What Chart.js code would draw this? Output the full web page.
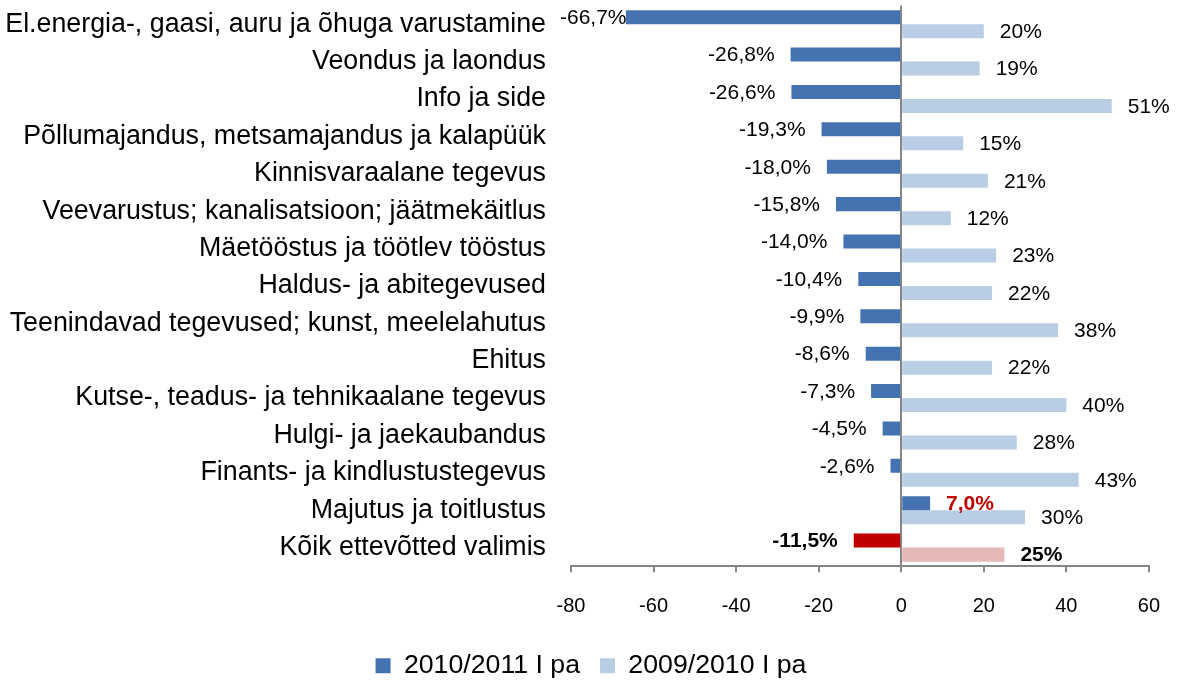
<!DOCTYPE html>
<html>
<head>
<meta charset="utf-8">
<script src="https://cdn.jsdelivr.net/npm/chart.js@4"></script>
<style>
  html, body { margin: 0; padding: 0; background: #fff; }
  #wrap { width: 1182px; height: 681px; }
</style>
</head>
<body>
<div id="wrap"><canvas id="sectorChart" width="1182" height="681"></canvas></div>
<script>
const categories = [
    'El.energia-, gaasi, auru ja õhuga varustamine',
    'Veondus ja laondus',
    'Info ja side',
    'Põllumajandus, metsamajandus ja kalapüük',
    'Kinnisvaraalane tegevus',
    'Veevarustus; kanalisatsioon; jäätmekäitlus',
    'Mäetööstus ja töötlev tööstus',
    'Haldus- ja abitegevused',
    'Teenindavad tegevused; kunst, meelelahutus',
    'Ehitus',
    'Kutse-, teadus- ja tehnikaalane tegevus',
    'Hulgi- ja jaekaubandus',
    'Finants- ja kindlustustegevus',
    'Majutus ja toitlustus',
    'Kõik ettevõtted valimis'
];
const change2011 = [-66.7, -26.8, -26.6, -19.3, -18.0, -15.8, -14.0, -10.4, -9.9, -8.6, -7.3, -4.5, -2.6, 7.0, -11.5];
const change2010 = [20, 19, 51, 15, 21, 12, 23, 22, 38, 22, 40, 28, 43, 30, 25];
const seriesNames = ['2010/2011 I pa', '2009/2010 I pa'];
const xTicks = [-80, -60, -40, -20, 0, 20, 40, 60];

const font = "'Liberation Sans', Arial, sans-serif";
const lastIdx = categories.length - 1;

// last row ("Kõik ettevõtted") gets its own colours
const darkColors = categories.map((c, i) => i === lastIdx ? '#C00000' : '#4573B1');
const lightColors = categories.map((c, i) => i === lastIdx ? '#E6B9B8' : '#B9CDE5');

const barLabels = {
    id: 'barLabels',
    afterDatasetsDraw(chart) {
        const ctx = chart.ctx;
        const area = chart.chartArea;
        ctx.save();
        ctx.textBaseline = 'middle';
        chart.data.datasets.forEach((ds, di) => {
            chart.getDatasetMeta(di).data.forEach((bar, i) => {
                const v = ds.data[i];
                let txt = di === 0 ? v.toFixed(1).replace('.', ',') + '%' : Math.round(v) + '%';
                let bold = i === lastIdx || (di === 0 && v > 0);
                ctx.font = (bold ? 'bold ' : '') + '21px ' + font;
                ctx.fillStyle = (di === 0 && v > 0) ? '#C00000' : '#000';
                const w = ctx.measureText(txt).width;
                let x;
                if (v < 0) {
                    x = Math.max(bar.x - 16, area.left - 11 + w);
                    ctx.textAlign = 'right';
                } else {
                    x = bar.x + 16;
                    ctx.textAlign = 'left';
                }
                ctx.fillText(txt, x, bar.y + 1);
            });
        });
        ctx.restore();
    }
};

// legend is centred on the whole canvas, not on the padded area
const centreLegend = {
    id: 'centreLegend',
    afterLayout(chart) {
        const shift = 16;
        chart.legend.left += shift;
        chart.legend.right += shift;
    }
};

let ctx = document.getElementById('sectorChart').getContext('2d');
let sectorChart = new Chart(ctx, {
    type: 'bar',
    data: {
        labels: categories,
        datasets: [{
            label: seriesNames[0],
            data: change2011,
            backgroundColor: darkColors,
            categoryPercentage: 0.75,
            barPercentage: 1.0
        }, {
            label: seriesNames[1],
            data: change2010,
            backgroundColor: lightColors,
            categoryPercentage: 0.75,
            barPercentage: 1.0
        }]
    },
    options: {
        indexAxis: 'y',
        responsive: false,
        animation: false,
        layout: { padding: { top: 5.5, right: 32, bottom: -8, left: 0 } },
        scales: {
            x: {
                min: -80,
                max: 60,
                afterBuildTicks: scale => { scale.ticks = xTicks.map(v => ({ value: v })); },
                afterFit: scale => { scale.height = 66; },
                border: { display: true, color: '#868686', width: 2 },
                grid: {
                    color: c => c.tick && c.tick.value === 0 ? '#868686' : 'rgba(0,0,0,0)',
                    lineWidth: 2,
                    drawTicks: true,
                    tickLength: 6,
                    tickColor: '#868686',
                    tickWidth: 2
                },
                ticks: {
                    color: '#000',
                    font: { family: font, size: 20 },
                    padding: 22
                }
            },
            y: {
                afterFit: scale => { scale.width = 571; },
                border: { display: false },
                grid: {
                    display: true,
                    drawOnChartArea: false,
                    drawTicks: true,
                    tickLength: 25,
                    tickColor: 'rgba(0,0,0,0)',
                    color: 'rgba(0,0,0,0)'
                },
                ticks: {
                    color: '#000',
                    font: { family: font, size: 26.8, lineHeight: 0.3 },
                    padding: 0,
                    autoSkip: false
                }
            }
        },
        plugins: {
            legend: {
                position: 'bottom',
                labels: {
                    color: '#000',
                    font: { family: font, size: 26.7 },
                    boxWidth: 15,
                    boxHeight: 15,
                    padding: 20
                }
            },
            tooltip: { enabled: false }
        }
    },
    plugins: [barLabels, centreLegend]
});
</script>
</body>
</html>
